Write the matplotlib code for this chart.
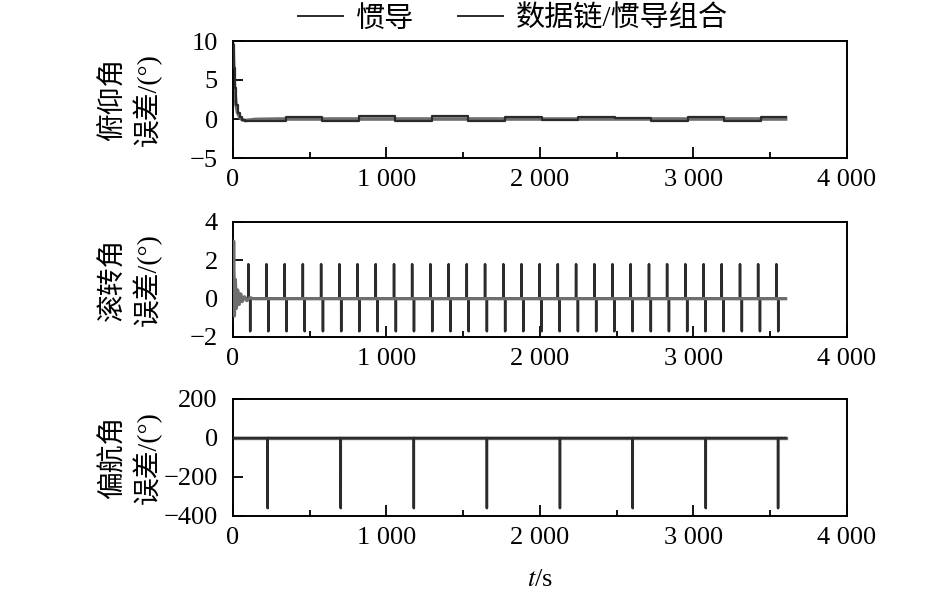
import numpy as np
import matplotlib
matplotlib.use("Agg")
import matplotlib.pyplot as plt
from matplotlib.ticker import MultipleLocator, FixedLocator

plt.rcParams['font.family'] = ['Liberation Serif', 'Noto Sans CJK SC']
plt.rcParams['mathtext.fontset'] = 'stix'
plt.rcParams['axes.unicode_minus'] = True

# ---------------- data ----------------
legend_labels = ['惯导', '数据链/惯导组合']
ylabels = ['俯仰角\n误差/(°)', '滚转角\n误差/(°)', '偏航角\n误差/(°)']
xticks = [0, 1000, 2000, 3000, 4000]
xticklabels = ['0', '1 000', '2 000', '3 000', '4 000']

# pitch: INS piecewise step values (breakpoints in s)
pitch_ins_t = [0, 5, 10, 20, 30, 45, 60, 80, 106, 344, 582, 820, 1058, 1296,
               1534, 1772, 2010, 2248, 2486, 2724, 2962, 3200, 3438, 3600]
pitch_ins_v = [9.5, 6.5, 4.0, 1.8, 0.8, 0.2, -0.1, -0.2, -0.3, 0.3, -0.3, 0.4,
               -0.3, 0.4, -0.3, 0.2, -0.1, 0.2, 0.1, -0.3, 0.3, -0.3, 0.3, 0.3]
# pitch: combined
pitch_comb_t = [0, 5, 10, 20, 30, 45, 60, 80, 100, 150, 300, 3600]
pitch_comb_v = [9.5, 6.5, 4.0, 1.8, 0.8, 0.2, -0.1, -0.2, -0.15, -0.05, 0.0, 0.0]

# roll: INS spikes (up spike then down spike shortly after)
roll_up_t = [100, 218, 337, 455, 574, 693, 811, 930, 1049, 1167, 1286, 1405,
             1523, 1642, 1761, 1879, 1998, 2116, 2235, 2354, 2472, 2591, 2710,
             2828, 2947, 3066, 3184, 3303, 3421, 3540]
roll_up_v = 1.8
roll_down_lag = 12
roll_down_v = -1.7
roll_end = 3600
# roll: combined (initial transient)
roll_comb_t = [0, 4, 9, 15, 22, 30, 40, 50, 60, 75, 90, 110, 130, 3600]
roll_comb_v = [0.0, 3.0, -0.9, 1.0, -0.5, 0.45, -0.3, 0.25, -0.15, 0.1, -0.1, 0.05, 0.0, 0.0]

# yaw: INS wrap spikes
yaw_spike_t = [226, 702, 1178, 1654, 2130, 2604, 3080, 3551]
yaw_spike_v = -360
yaw_end = 3600
yaw_comb_t = [0, 3600]
yaw_comb_v = [0, 0]

ylims = [(-5, 10), (-2, 4), (-400, 200)]
ytick_steps = [5, 2, 200]

# ---------------- helpers ----------------
def steps(t, v):
    tt, vv = [], []
    for i in range(len(t) - 1):
        tt += [t[i], t[i + 1]]
        vv += [v[i], v[i]]
    return tt, vv

def roll_ins():
    tt, vv = [0], [0]
    for s in roll_up_t:
        tt += [s - 0.5, s, s + 0.5, s + roll_down_lag - 0.5, s + roll_down_lag, s + roll_down_lag + 0.5]
        vv += [0, roll_up_v, 0, 0, roll_down_v, 0]
    tt.append(roll_end)
    vv.append(0)
    return tt, vv

def yaw_ins():
    tt, vv = [0], [0]
    for s in yaw_spike_t:
        tt += [s - 0.5, s, s + 0.5]
        vv += [0, yaw_spike_v, 0]
    tt.append(yaw_end)
    vv.append(0)
    return tt, vv

c_ins = '#2b2b2b'
c_comb = '#6e6e6e'

fig = plt.figure(figsize=(9.45, 6.02), dpi=100)
L, W = 233 / 945, 614 / 945
rects = [
    [L, 1 - 158 / 602, W, 117 / 602],
    [L, 1 - 337 / 602, W, 115 / 602],
    [L, 1 - 516 / 602, W, 117 / 602],
]
axes = [fig.add_axes(r) for r in rects]

# pitch
pt, pv = steps(pitch_ins_t, pitch_ins_v)
h1, = axes[0].plot(pt, pv, color=c_ins, lw=1.6, zorder=3)
h2, = axes[0].plot(pitch_comb_t, pitch_comb_v, color=c_comb, lw=2.6, zorder=2)

# roll
rt, rv = roll_ins()
axes[1].plot(rt, rv, color=c_ins, lw=1.8, zorder=3)
axes[1].plot(roll_comb_t, roll_comb_v, color=c_comb, lw=2.4, zorder=4)

# yaw
yt, yv = yaw_ins()
axes[2].plot(yt, yv, color=c_ins, lw=1.8, zorder=3)
axes[2].plot(yaw_comb_t, yaw_comb_v, color=c_comb, lw=2.4, zorder=2)

for ax, yl, lim, st in zip(axes, ylabels, ylims, ytick_steps):
    ax.set_xlim(0, 4000)
    ax.set_ylim(*lim)
    ax.xaxis.set_major_locator(FixedLocator(xticks))
    ax.set_xticklabels(xticklabels)
    ax.xaxis.set_minor_locator(MultipleLocator(500))
    ax.yaxis.set_major_locator(MultipleLocator(st))
    ax.tick_params(axis='both', which='both', direction='in', top=False, right=False,
                   labelsize=19, width=1.3, colors='black')
    ax.tick_params(axis='x', which='major', length=8, pad=8)
    ax.tick_params(axis='x', which='minor', length=4.5)
    ax.tick_params(axis='y', which='major', length=7, pad=11)
    for sp in ax.spines.values():
        sp.set_linewidth(1.4)
    ax.set_ylabel(yl, fontsize=20, linespacing=1.25)
    ax.yaxis.set_label_coords(-0.116, 0.5)

fig.text(540 / 945, 1 - 580 / 602, '$t$/s', fontsize=19, ha='center', va='center')

fig.legend([h1, h2], legend_labels, loc='center', bbox_to_anchor=(513 / 945, 1 - 19 / 602),
           ncol=2, frameon=False, fontsize=21, handlelength=1.55, columnspacing=1.5,
           handletextpad=0.45, borderpad=0)
for lh in fig.legends[0].get_lines():
    lh.set_color(c_ins)
    lh.set_linewidth(1.4)

fig.savefig('out.png', dpi=100)
